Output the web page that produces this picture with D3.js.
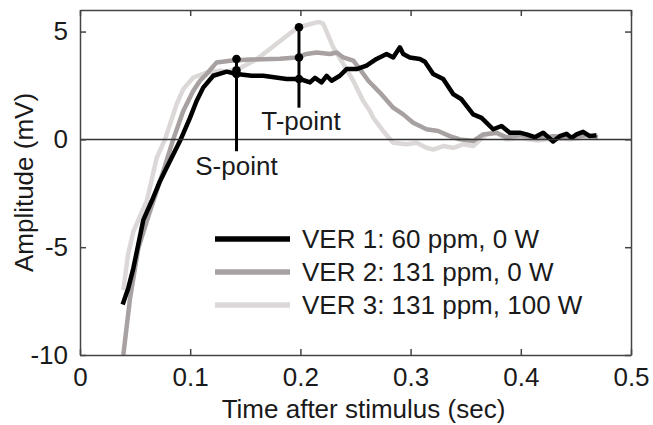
<!DOCTYPE html>
<html>
<head>
<meta charset="utf-8">
<script src="https://cdn.jsdelivr.net/npm/d3@7"></script>
<style>
  body { margin: 0; background: #fff; }
  text { font-family: "Liberation Sans", Arial, sans-serif; fill: #1a1a1a; }
</style>
</head>
<body>
<div id="chart"></div>
<script>
// series (time in sec, amplitude in mV)
var ver1Time = [0.0387, 0.0438, 0.0484, 0.0575, 0.065, 0.0726, 0.0786, 0.0907, 0.0998, 0.1058, 0.1118, 0.1209, 0.1331, 0.1421, 0.1558, 0.1663, 0.1875, 0.1996,
  0.2087, 0.2132, 0.2192, 0.2238, 0.2283, 0.2358, 0.2419, 0.251, 0.26, 0.2691, 0.2782, 0.2842, 0.2903, 0.2933, 0.2993, 0.3084, 0.313, 0.3205,
  0.3296, 0.3386, 0.3462, 0.3568, 0.3644, 0.3749, 0.3825, 0.39, 0.399, 0.4052, 0.4127, 0.4203, 0.4293, 0.4354, 0.4415, 0.446, 0.4506, 0.4565, 0.4626, 0.4687];
var ver1Amp = [-7.66, -6.9, -5.98, -3.73, -2.87, -1.94, -1.32, -0.08, 1.0, 1.78, 2.4, 2.95, 3.14, 3.03, 2.95, 2.95, 2.8, 2.8,
  2.64, 2.85, 2.64, 2.95, 2.72, 2.95, 3.26, 3.26, 3.42, 3.73, 3.96, 3.8, 4.27, 3.96, 3.8, 3.73, 3.6, 3.03,
  2.8, 2.1, 1.86, 1.16, 1.0, 0.47, 0.62, 0.31, 0.31, 0.23, 0.1, 0.31, -0.1, 0.15, 0.26, 0.07, 0.23, 0.35, 0.15, 0.19];

var ver2Time = [0.0393, 0.0454, 0.0529, 0.0605, 0.0665, 0.0756, 0.0846, 0.0937, 0.1028, 0.1089, 0.1149, 0.124, 0.1361, 0.154, 0.1814, 0.1966,
  0.2056, 0.2147, 0.2268, 0.2329, 0.2389, 0.248, 0.254, 0.2616, 0.2721, 0.2842, 0.2933, 0.3023, 0.3084, 0.3144, 0.325, 0.3356, 0.3447,
  0.3568, 0.3658, 0.378, 0.387, 0.4, 0.415, 0.43, 0.445, 0.46, 0.47];
var ver2Amp = [-10, -7.38, -5.05, -3.81, -2.87, -1.48, 0, 1.32, 2.25, 2.72, 3.03, 3.57, 3.65, 3.7, 3.74, 3.8,
  3.96, 4.03, 3.96, 4.03, 3.8, 3.65, 3.26, 2.72, 2.17, 1.47, 1.16, 0.77, 0.62, 0.47, 0.39, 0.15, 0,
  -0.08, 0.23, 0.31, 0.1, 0.2, 0.05, 0.15, 0.1, 0.2, 0.1];

var ver3Time = [0.0393, 0.0436, 0.0484, 0.0605, 0.0696, 0.0771, 0.0877, 0.0937, 0.1028, 0.1149, 0.127, 0.133, 0.145, 0.16, 0.175, 0.19, 0.1987,
  0.2147, 0.2177, 0.2208, 0.2298, 0.2389, 0.248, 0.257, 0.2631, 0.2661, 0.2751, 0.2842, 0.2963, 0.3054, 0.3144, 0.3205, 0.3296, 0.3386,
  0.3477, 0.3568, 0.3689, 0.378, 0.387, 0.4, 0.415, 0.43, 0.445, 0.46, 0.47];
var ver3Amp = [-7.0, -5.34, -4.27, -2.87, -0.86, 0, 1.63, 2.33, 2.87, 3.1, 3.18, 3.14, 3.3, 3.7, 4.3, 4.9, 5.2,
  5.43, 5.43, 5.36, 4.27, 3.5, 2.72, 1.78, 1.32, 1.0, 0.39, -0.16, -0.23, -0.16, -0.39, -0.47, -0.31, -0.39,
  -0.23, -0.31, 0.23, 0.31, 0, 0.05, -0.05, 0.05, 0, 0.1, 0.05];

var legendLabels = ["VER 1: 60 ppm, 0 W", "VER 2: 131 ppm, 0 W", "VER 3: 131 ppm, 100 W"];
var seriesColors = ["#000000", "#a8a1a1", "#dcd8d8"];

var markerNames = ["S-point", "T-point"];
var markerTimes = [0.142, 0.1987];
var markerDots = [[3.03, 3.2, 3.73], [2.8, 3.8, 5.2]];
var markerBottoms = [-0.55, 1.47];

var xTicks = [0, 0.1, 0.2, 0.3, 0.4, 0.5];
var yTicks = [-10, -5, 0, 5];

var width = 653,
    height = 425;
var margin = {top: 10, right: 22, bottom: 70, left: 80};
var iw = width - margin.left - margin.right,
    ih = height - margin.top - margin.bottom;

var svg = d3.select("#chart").append("svg")
    .attr("width", width)
    .attr("height", height);
var g = svg.append("g")
    .attr("transform", "translate(" + margin.left + "," + margin.top + ")");

var x = d3.scaleLinear().domain([0, 0.5]).range([0, iw]);
var y = d3.scaleLinear().domain([-10, 6]).range([ih, 0]);

svg.append("defs").append("clipPath").attr("id", "plot")
  .append("rect").attr("width", iw).attr("height", ih);

var line = d3.line()
    .x(function(d) { return x(d[0]); })
    .y(function(d) { return y(d[1]); });

function pairs(t, a) { return t.map(function(v, i) { return [v, a[i]]; }); }
var series = [pairs(ver1Time, ver1Amp), pairs(ver2Time, ver2Amp), pairs(ver3Time, ver3Amp)];

var curves = g.append("g").attr("clip-path", "url(#plot)");
// light curves drawn first so black sits on top
[2, 1].forEach(function(i) {
  curves.append("path")
    .datum(series[i])
    .attr("d", line)
    .attr("fill", "none")
    .attr("stroke", seriesColors[i])
    .attr("stroke-width", 4.5)
    .attr("stroke-linejoin", "round");
});

// zero line
g.append("line")
  .attr("x1", 0).attr("x2", iw)
  .attr("y1", y(0)).attr("y2", y(0))
  .attr("stroke", "#333").attr("stroke-width", 1.5);

curves.append("path")
  .datum(series[0])
  .attr("d", line)
  .attr("fill", "none")
  .attr("stroke", seriesColors[0])
  .attr("stroke-width", 4.5)
  .attr("stroke-linejoin", "round");

// S / T markers
markerTimes.forEach(function(t, i) {
  var top = d3.max(markerDots[i]);
  g.append("line")
    .attr("x1", x(t)).attr("x2", x(t))
    .attr("y1", y(top)).attr("y2", y(markerBottoms[i]))
    .attr("stroke", "#000").attr("stroke-width", 3);
  g.selectAll(null)
    .data(markerDots[i])
    .enter().append("circle")
    .attr("cx", x(t))
    .attr("cy", function(d) { return y(d); })
    .attr("r", 4.3)
    .attr("fill", "#000");
});
g.append("text")
  .attr("x", x(markerTimes[0])).attr("y", 165)
  .attr("text-anchor", "middle")
  .style("font-size", "26px")
  .text(markerNames[0]);
g.append("text")
  .attr("x", x(markerTimes[1]) + 2).attr("y", 120)
  .attr("text-anchor", "middle")
  .style("font-size", "26px")
  .text(markerNames[1]);

// axes, ticks inward, box like matlab
var axisColor = "#444";
function styleAxis(sel) {
  sel.select(".domain").attr("stroke", axisColor).attr("stroke-width", 1.5);
  sel.selectAll(".tick line").attr("stroke", axisColor).attr("stroke-width", 1.5);
  sel.selectAll(".tick text").style("font-size", "26px").attr("fill", "#1a1a1a")
    .style("font-family", "'Liberation Sans', Arial, sans-serif");
}
var fmtX = function(d) { return d === 0 ? "0" : d3.format(".1f")(d); };
var fmtY = function(d) { return String(d); };

g.append("g")
  .attr("transform", "translate(0," + ih + ")")
  .call(d3.axisBottom(x).tickValues(xTicks).tickFormat(fmtX).tickSizeInner(-6).tickSizeOuter(0).tickPadding(13))
  .call(styleAxis);
g.append("g")
  .call(d3.axisTop(x).tickValues(xTicks).tickFormat("").tickSizeInner(-6).tickSizeOuter(0))
  .call(styleAxis);
g.append("g")
  .call(d3.axisLeft(y).tickValues(yTicks).tickFormat(fmtY).tickSizeInner(-6).tickSizeOuter(0).tickPadding(12))
  .call(styleAxis);
g.append("g")
  .attr("transform", "translate(" + iw + ",0)")
  .call(d3.axisRight(y).tickValues(yTicks).tickFormat("").tickSizeInner(-6).tickSizeOuter(0))
  .call(styleAxis);

// axis titles
svg.append("text")
  .attr("x", margin.left + iw / 2 + 8)
  .attr("y", 418)
  .attr("text-anchor", "middle")
  .style("font-size", "26px")
  .text("Time after stimulus (sec)");
svg.append("text")
  .attr("transform", "translate(33," + (margin.top + ih / 2) + ") rotate(-90)")
  .attr("text-anchor", "middle")
  .style("font-size", "26px")
  .text("Amplitude (mV)");

// legend
var legend = svg.append("g").attr("transform", "translate(215,239)");
var items = legend.selectAll("g")
  .data(legendLabels)
  .enter().append("g")
  .attr("transform", function(d, i) { return "translate(0," + (i * 33) + ")"; });
items.append("line")
  .attr("x1", 0).attr("x2", 75)
  .attr("stroke", function(d, i) { return seriesColors[i]; })
  .attr("stroke-width", 5.5);
items.append("text")
  .attr("x", 87).attr("y", 9)
  .style("font-size", "26px")
  .text(function(d) { return d; });
</script>
</body>
</html>
